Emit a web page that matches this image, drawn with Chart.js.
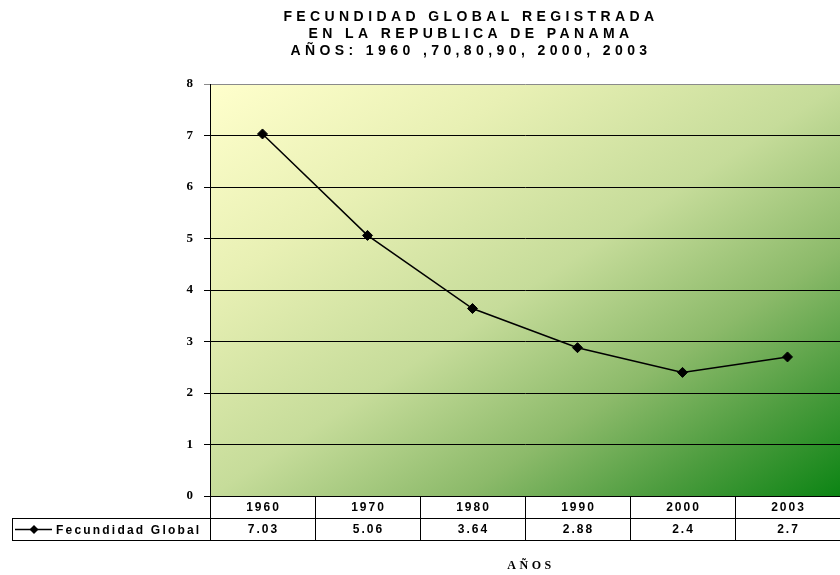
<!DOCTYPE html>
<html>
<head>
<meta charset="utf-8">
<title>Fecundidad Global Panamá</title>
<script src="https://cdn.jsdelivr.net/npm/chart.js"></script>
<style>
  html, body { margin: 0; padding: 0; background: #fff; }
  #chart { display: block; }
</style>
</head>
<body>
<canvas id="chart" width="840" height="575"></canvas>
<script>
  // Data
  const years = ['1960', '1970', '1980', '1990', '2000', '2003'];
  const fecundidad = [7.03, 5.06, 3.64, 2.88, 2.4, 2.7];
  const seriesName = 'Fecundidad Global';
  const titleLines = [
    'FECUNDIDAD GLOBAL REGISTRADA',
    'EN LA REPUBLICA DE PANAMA',
    'AÑOS: 1960 ,70,80,90, 2000, 2003'
  ];
  const xTitle = 'AÑOS';

  const SANS = '"Liberation Sans", Arial, sans-serif';
  const SERIF = '"Liberation Serif", "Times New Roman", serif';

  // Diagonal yellow-to-green fill behind the plot
  const plotBackground = {
    id: 'plotBackground',
    beforeDraw(chart) {
      const { ctx, chartArea: a } = chart;
      const w = a.right - a.left, h = a.bottom - a.top;
      const cx = a.left + w / 2, cy = a.top + h / 2;
      const k = (w * h) / (w * w + h * h);
      const g = ctx.createLinearGradient(cx - h * k, cy - w * k, cx + h * k, cy + w * k);
      g.addColorStop(0, '#ffffcc');
      g.addColorStop(0.25, '#e8f0b4');
      g.addColorStop(0.5, '#c6dc9a');
      g.addColorStop(0.7, '#8cba6a');
      g.addColorStop(0.85, '#4c9c3e');
      g.addColorStop(1, '#0c8414');
      ctx.save();
      ctx.fillStyle = g;
      ctx.fillRect(a.left, a.top, w, h);
      ctx.restore();
    }
  };

  // Title, data table and axis title
  const extras = {
    id: 'extras',
    afterDraw(chart) {
      const { ctx, chartArea: a } = chart;
      const xs = chart.scales.x;
      ctx.save();
      ctx.fillStyle = '#000';
      ctx.textAlign = 'center';
      ctx.textBaseline = 'middle';

      // title
      ctx.font = 'bold 14px ' + SANS;
      ctx.letterSpacing = '4.4px';
      titleLines.forEach((t, i) => ctx.fillText(t, 471, 17 + i * 17));

      // table
      const rowH = 22;
      const top = a.bottom, mid = top + rowH, bot = mid + rowH;
      const step = xs.getPixelForValue(1) - xs.getPixelForValue(0);
      const legendLeft = 12;
      ctx.strokeStyle = '#000';
      ctx.lineWidth = 1;
      ctx.beginPath();
      ctx.moveTo(a.left - 6, top + 0.5); ctx.lineTo(a.right, top + 0.5);
      ctx.moveTo(legendLeft, mid + 0.5); ctx.lineTo(a.right, mid + 0.5);
      ctx.moveTo(legendLeft, bot + 0.5); ctx.lineTo(a.right, bot + 0.5);
      ctx.moveTo(legendLeft + 0.5, mid); ctx.lineTo(legendLeft + 0.5, bot);
      for (let i = 0; i < years.length; i++) {
        const x = Math.round(xs.getPixelForValue(i) - step / 2) + 0.5;
        ctx.moveTo(x, top); ctx.lineTo(x, bot);
      }
      ctx.stroke();

      ctx.font = 'bold 12px ' + SANS;
      ctx.letterSpacing = '2px';
      years.forEach((y, i) => {
        const x = xs.getPixelForValue(i);
        ctx.fillText(y, x + 1, top + rowH / 2 + 1);
        ctx.fillText(String(fecundidad[i]), x + 1, mid + rowH / 2 + 1);
      });

      // legend key inside the table
      const ly = mid + rowH / 2 + 0.5;
      ctx.lineWidth = 1.5;
      ctx.beginPath();
      ctx.moveTo(15, ly); ctx.lineTo(52, ly);
      ctx.stroke();
      ctx.beginPath();
      ctx.moveTo(34, ly - 4.5); ctx.lineTo(38.5, ly); ctx.lineTo(34, ly + 4.5); ctx.lineTo(29.5, ly);
      ctx.closePath();
      ctx.fill();
      ctx.textAlign = 'left';
      ctx.letterSpacing = '2.2px';
      ctx.fillText(seriesName, 56, ly + 1);

      // axis title
      ctx.textAlign = 'center';
      ctx.font = 'bold 12px ' + SERIF;
      ctx.letterSpacing = '3.5px';
      ctx.fillText(xTitle, 531, 566);
      ctx.restore();
    }
  };

  const ctx = document.getElementById('chart').getContext('2d');
  new Chart(ctx, {
    type: 'line',
    data: {
      labels: years,
      datasets: [{
        label: seriesName,
        data: fecundidad,
        borderColor: '#000',
        backgroundColor: '#000',
        borderWidth: 1.5,
        tension: 0,
        pointStyle: 'rectRot',
        pointRadius: 5,
        pointBackgroundColor: '#000',
        pointBorderColor: '#000',
        pointBorderWidth: 1
      }]
    },
    options: {
      responsive: false,
      animation: false,
      layout: { autoPadding: false, padding: { left: 150, top: 84, right: 0, bottom: 79 } },
      plugins: {
        legend: { display: false },
        tooltip: { enabled: false },
        title: { display: false }
      },
      scales: {
        x: {
          display: false,
          offset: true
        },
        y: {
          min: 0,
          max: 8,
          afterFit(scale) { scale.width = 60; },
          ticks: {
            stepSize: 1,
            padding: 11,
            color: '#000',
            font: { family: SERIF, size: 13, weight: 'bold' }
          },
          grid: {
            color: c => (c.tick && c.tick.value === 8 ? '#8a8a8a' : '#000'),
            lineWidth: 1,
            tickLength: 6,
            drawTicks: true
          },
          border: { color: '#000', width: 1 }
        }
      }
    },
    plugins: [plotBackground, extras]
  });
</script>
</body>
</html>
